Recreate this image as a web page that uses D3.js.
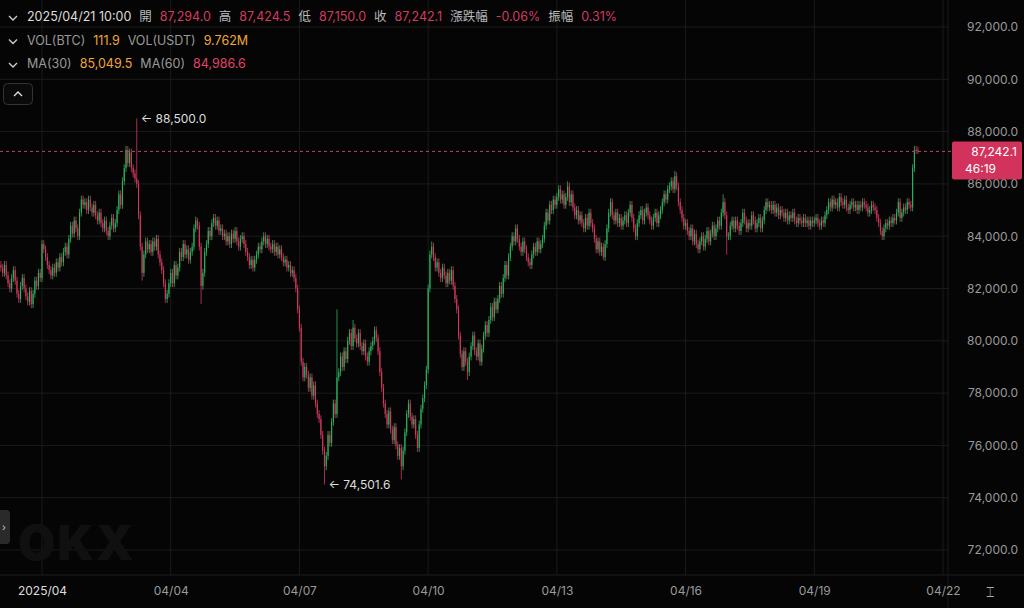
<!DOCTYPE html>
<html><head><meta charset="utf-8">
<script src="https://cdn.jsdelivr.net/npm/d3@7"></script>
<style>
body{margin:0;background:#000;}
svg{display:block;font-family:Inter,"Noto Sans CJK TC",sans-serif;}
</style></head>
<body><svg id="c" width="1024" height="608"></svg>
<script>
// hourly closes in thousands USDT, first candle 2025/03/31 01:00
const start = new Date(2025, 2, 31, 1);
const closesByDay = [
  [82.8,82.6,82.9,82.5,82.2,82.0,82.4,82.7,82.3,81.8,81.6,82.1,82.4,82.0,81.7,81.5,81.9,81.4,81.8,82.3,82.1,82.6,82.4],
  [83.7,83.5,83.2,82.9,82.7,82.5,82.8,82.6,83.0,82.8,83.2,83.0,83.4,83.6,83.3,83.9,84.4,84.1,84.6,84.3,84.0,84.9,85.4,85.2],
  [85.3,85.0,85.4,85.1,84.9,85.2,84.8,84.6,84.9,84.5,84.3,84.6,84.2,84.0,84.4,84.7,84.3,84.5,85.0,85.6,85.2,86.1,86.6,87.3],
  [86.8,87.2,86.6,86.4,86.2,86.0,84.8,83.6,82.6,83.3,83.8,83.5,83.7,83.4,83.8,83.6,83.9,83.3,83.0,82.7,82.2,81.6,81.8,82.2],
  [82.6,82.2,82.9,82.5,82.8,83.4,83.2,83.7,83.3,83.5,83.1,83.4,83.6,84.3,84.6,84.4,83.6,82.1,82.6,83.4,83.7,84.2,84.0,84.5],
  [84.7,84.4,84.6,84.2,84.3,84.0,84.1,83.8,84.0,83.7,84.1,83.9,84.2,83.8,83.6,83.9,84.0,83.7,83.4,83.2,82.9,83.1,82.8,83.1],
  [83.3,83.6,83.5,83.8,84.0,83.7,83.9,83.6,83.5,83.7,83.4,83.6,83.3,83.5,83.2,83.0,83.1,82.8,82.9,82.6,82.7,82.4,82.0,81.2],
  [80.5,79.2,78.6,79.0,78.7,78.2,78.6,77.9,78.3,77.6,77.2,77.0,76.4,75.8,75.2,75.6,76.4,76.1,76.9,77.6,77.2,78.6,78.8,79.4],
  [79.0,79.6,79.3,80.0,80.3,79.8,80.5,80.1,79.9,80.3,79.8,79.6,79.9,79.4,79.2,79.6,79.8,80.0,80.4,80.1,79.6,78.8,78.2,77.6],
  [77.2,76.8,77.3,76.6,76.2,76.7,76.0,75.6,75.9,75.2,75.8,76.5,77.2,77.6,77.1,76.8,77.0,76.4,75.9,76.8,77.4,77.8,78.3,78.9],
  [82.0,83.3,83.6,83.2,82.8,83.0,82.6,82.4,82.8,82.5,82.2,82.6,82.3,82.7,82.1,81.6,81.2,80.2,79.5,79.0,79.6,79.2,78.8,79.4],
  [79.8,80.2,79.6,79.4,79.9,79.2,79.7,80.2,80.6,80.3,80.8,81.3,80.9,81.5,81.2,81.6,82.1,81.8,82.4,82.9,82.5,83.2,83.6,84.0],
  [83.8,84.3,83.9,83.6,83.4,83.8,83.5,83.2,83.0,82.9,83.3,83.6,83.4,83.8,83.5,83.7,83.9,84.4,84.9,84.6,85.2,85.0,85.4,85.2],
  [85.5,85.8,85.4,85.6,85.2,85.5,85.9,85.3,85.6,85.1,84.8,85.0,84.6,84.8,84.5,84.3,84.7,84.4,84.9,84.5,84.3,83.9,83.5,83.8],
  [83.4,83.6,83.2,83.7,84.3,84.9,85.3,84.8,84.6,84.9,84.5,84.7,84.4,84.6,84.8,84.5,84.9,85.2,84.7,84.3,84.0,84.5,84.8,85.0],
  [84.6,84.9,85.1,84.8,84.6,84.4,84.7,84.9,84.5,84.8,85.0,85.3,85.6,85.4,85.8,85.9,86.1,85.8,86.3,85.9,85.3,85.0,84.7,84.4],
  [84.5,84.2,84.0,84.3,83.8,84.1,83.7,83.5,83.8,84.0,83.6,83.9,84.2,83.8,84.1,84.4,84.0,84.3,84.6,84.4,84.9,85.3,84.8,84.0],
  [84.0,84.4,84.6,84.3,84.6,84.4,84.2,84.5,84.9,84.6,84.3,84.5,84.4,84.8,84.6,84.3,84.5,84.7,84.3,84.6,85.0,85.3,85.1,85.2],
  [85.0,85.2,84.9,85.1,84.8,85.0,84.9,84.7,84.9,84.6,84.8,84.7,84.9,84.6,84.5,84.7,84.6,84.5,84.7,84.5,84.6,84.4,84.6,84.5],
  [84.6,84.7,84.5,84.4,84.6,84.5,84.8,85.0,85.3,85.1,85.4,85.2,85.3,85.1,85.5,85.3,85.2,85.4,85.1,85.0,85.2,85.3,85.1,85.2],
  [85.0,85.2,85.1,85.3,85.2,85.1,84.9,85.0,85.2,85.1,85.0,84.7,84.5,84.2,84.0,84.3,84.5,84.4,84.6,84.5,84.7,84.6,84.9,85.3],
  [84.7,84.9,85.1,85.0,85.3,85.2,85.1,86.6,87.3,87.294,87.2421]
];
// candle index -> wick extremes that stand out
const wickHighs = [[76,88.5],[110,84.7],[188,81.2],[197,80.8],[241,83.8],[317,86.1],[377,86.5],[404,85.6],[513,87.4245]];
const wickLows = [[79,82.3],[112,81.4],[181,74.5016],[224,74.7],[261,78.5],[337,83.1],[406,83.3],[513,87.15]];
const yTicks = [72000,74000,76000,78000,80000,82000,84000,86000,88000,90000,92000];
const xTicks = [["2025/04",new Date(2025,3,1)],["04/04",new Date(2025,3,4)],["04/07",new Date(2025,3,7)],
  ["04/10",new Date(2025,3,10)],["04/13",new Date(2025,3,13)],["04/16",new Date(2025,3,16)],
  ["04/19",new Date(2025,3,19)],["04/22",new Date(2025,3,22)]];

const closes = closesByDay.flat().map(v => v*1000);
const hi = new Map(wickHighs.map(d => [d[0], d[1]*1000]));
const lo = new Map(wickLows.map(d => [d[0], d[1]*1000]));
const candles = closes.map((c, i) => {
  const o = i ? closes[i-1] : c + 100;
  return {t: d3.timeHour.offset(start, i), o, c,
    h: hi.get(i) ?? Math.max(o, c) + 150, l: lo.get(i) ?? Math.min(o, c) - 150};
});

const svg = d3.select("#c");
const W = 1024, H = 608, plotR = 948;
const x = d3.scaleTime().domain([new Date(2025,3,1), new Date(2025,3,22)]).range([42, 943]);
const y = d3.scaleLinear().domain([72000, 92000]).range([550, 27]);
const GREEN = "#2db35c", RED = "#d23a62";

svg.append("rect").attr("width", W).attr("height", H).attr("fill", "#050505");
const grid = svg.append("g").attr("stroke", "#1b1b1b");
grid.selectAll(".h").data(yTicks).join("line").attr("x1", 0).attr("x2", plotR)
  .attr("y1", d => y(d)).attr("y2", d => y(d));
grid.selectAll(".v").data(xTicks).join("line").attr("y1", 0).attr("y2", 575)
  .attr("x1", d => x(d[1])).attr("x2", d => x(d[1]));
svg.append("line").attr("x1", 0).attr("x2", W).attr("y1", 575).attr("y2", 575).attr("stroke", "#1f1f1f");
svg.append("line").attr("x1", plotR).attr("x2", plotR).attr("y1", 0).attr("y2", H).attr("stroke", "#1b1b1b");

// watermark
svg.append("text").attr("x", 18).attr("y", 560).attr("font-size", 48).attr("font-weight", 900)
  .attr("fill", "#101010").attr("letter-spacing", 2).text("OKX");

const g = svg.append("g");
const bw = 1.1;
g.selectAll("line.w").data(candles).join("line")
  .attr("x1", d => x(d.t)).attr("x2", d => x(d.t))
  .attr("y1", d => y(d.h)).attr("y2", d => y(d.l))
  .attr("stroke", d => d.c >= d.o ? GREEN : RED).attr("stroke-width", 0.8);
g.selectAll("rect").data(candles).join("rect")
  .attr("x", d => x(d.t) - bw/2).attr("width", bw)
  .attr("y", d => y(Math.max(d.o, d.c)))
  .attr("height", d => Math.max(1, Math.abs(y(d.o) - y(d.c))))
  .attr("fill", d => d.c >= d.o ? GREEN : RED);

// extreme labels
const maxC = candles.reduce((a, b) => b.h > a.h ? b : a);
const minC = candles.reduce((a, b) => b.l < a.l ? b : a);
svg.append("text").attr("x", x(maxC.t) + 4).attr("y", y(maxC.h) + 4).attr("fill", "#ddd")
  .attr("font-size", 12).text("← " + d3.format(",.1f")(maxC.h));
svg.append("text").attr("x", x(minC.t) + 4).attr("y", y(minC.l) + 4).attr("fill", "#ddd")
  .attr("font-size", 12).text("← " + d3.format(",.1f")(minC.l));

// last price line
const last = candles[candles.length - 1];
svg.append("line").attr("x1", 0).attr("x2", 952).attr("y1", y(last.c)).attr("y2", y(last.c))
  .attr("stroke", "#b8465f").attr("stroke-dasharray", "3,3").attr("stroke-width", 1);

// y axis
svg.append("g").attr("transform", `translate(1018,0)`)
  .call(d3.axisLeft(y).tickValues(yTicks).tickFormat(d3.format(",.1f")).tickSize(0).tickPadding(0))
  .call(a => a.select(".domain").remove())
  .call(a => a.selectAll("text").attr("fill", "#9a9a9a").attr("font-size", 12).attr("font-family", "Inter"));
svg.append("rect").attr("x", 952).attr("y", y(last.c) - 10).attr("width", 70).attr("height", 38)
  .attr("rx", 2).attr("fill", "#d2335c");
svg.append("text").attr("x", 1017).attr("y", y(last.c) + 5).attr("text-anchor", "end")
  .attr("fill", "#fff").attr("font-size", 12).text(d3.format(",.1f")(last.c));
svg.append("text").attr("x", 965).attr("y", y(last.c) + 22)
  .attr("fill", "#fff").attr("font-size", 12).text("46:19");

// x axis
svg.append("g").attr("transform", "translate(0,575)")
  .call(d3.axisBottom(x).tickValues(xTicks.map(d => d[1])).tickSize(0).tickPadding(11)
    .tickFormat((d, i) => xTicks[i][0]))
  .call(a => a.select(".domain").remove())
  .call(a => a.selectAll("text").attr("fill", "#9a9a9a").attr("font-size", 12).attr("font-family", "Inter"))
  .call(a => a.select(".tick:first-of-type text").attr("fill", "#ddd"));
svg.append("text").attr("x", 990).attr("y", 597).attr("text-anchor", "middle").attr("fill", "#aaa")
  .attr("font-size", 14).text("⌶");

// legend rows
const rows = [
  [["2025/04/21 10:00","#ddd"],["開","#bbb"],["87,294.0",RED],["高","#bbb"],["87,424.5",RED],["低","#bbb"],
   ["87,150.0",RED],["收","#bbb"],["87,242.1",RED],["漲跌幅","#bbb"],["-0.06%",RED],["振幅","#bbb"],["0.31%",RED]],
  [["VOL(BTC)","#999"],["111.9","#f0a63a"],["VOL(USDT)","#999"],["9.762M","#f0a63a"]],
  [["MA(30)","#999"],["85,049.5","#f0a63a"],["MA(60)","#999"],["84,986.6","#e0436e"]]
];
rows.forEach((r, i) => {
  const t = svg.append("text").attr("x", 27).attr("y", 21 + i*23.5).attr("font-size", 12.5);
  r.forEach(([s, c], j) => t.append("tspan").attr("dx", j ? 8 : 0).attr("fill", c).text(s));
  svg.append("path").attr("d", `M9,${16 + i*23.5} l4,4 l4,-4`).attr("fill", "none")
    .attr("stroke", "#ccc").attr("stroke-width", 1.4);
});
svg.append("rect").attr("x", 3.5).attr("y", 83.5).attr("width", 29).attr("height", 21).attr("rx", 4)
  .attr("fill", "#0a0a0a").attr("stroke", "#333");
svg.append("path").attr("d", "M14,96 l4,-4 l4,4").attr("fill", "none").attr("stroke", "#ddd").attr("stroke-width", 1.4);
svg.append("rect").attr("x", -6).attr("y", 510).attr("width", 16).attr("height", 34).attr("rx", 4).attr("fill", "#2a2a2a");
svg.append("text").attr("x", 2).attr("y", 531).attr("fill", "#ccc").attr("font-size", 10).text("›");
</script></body></html>
